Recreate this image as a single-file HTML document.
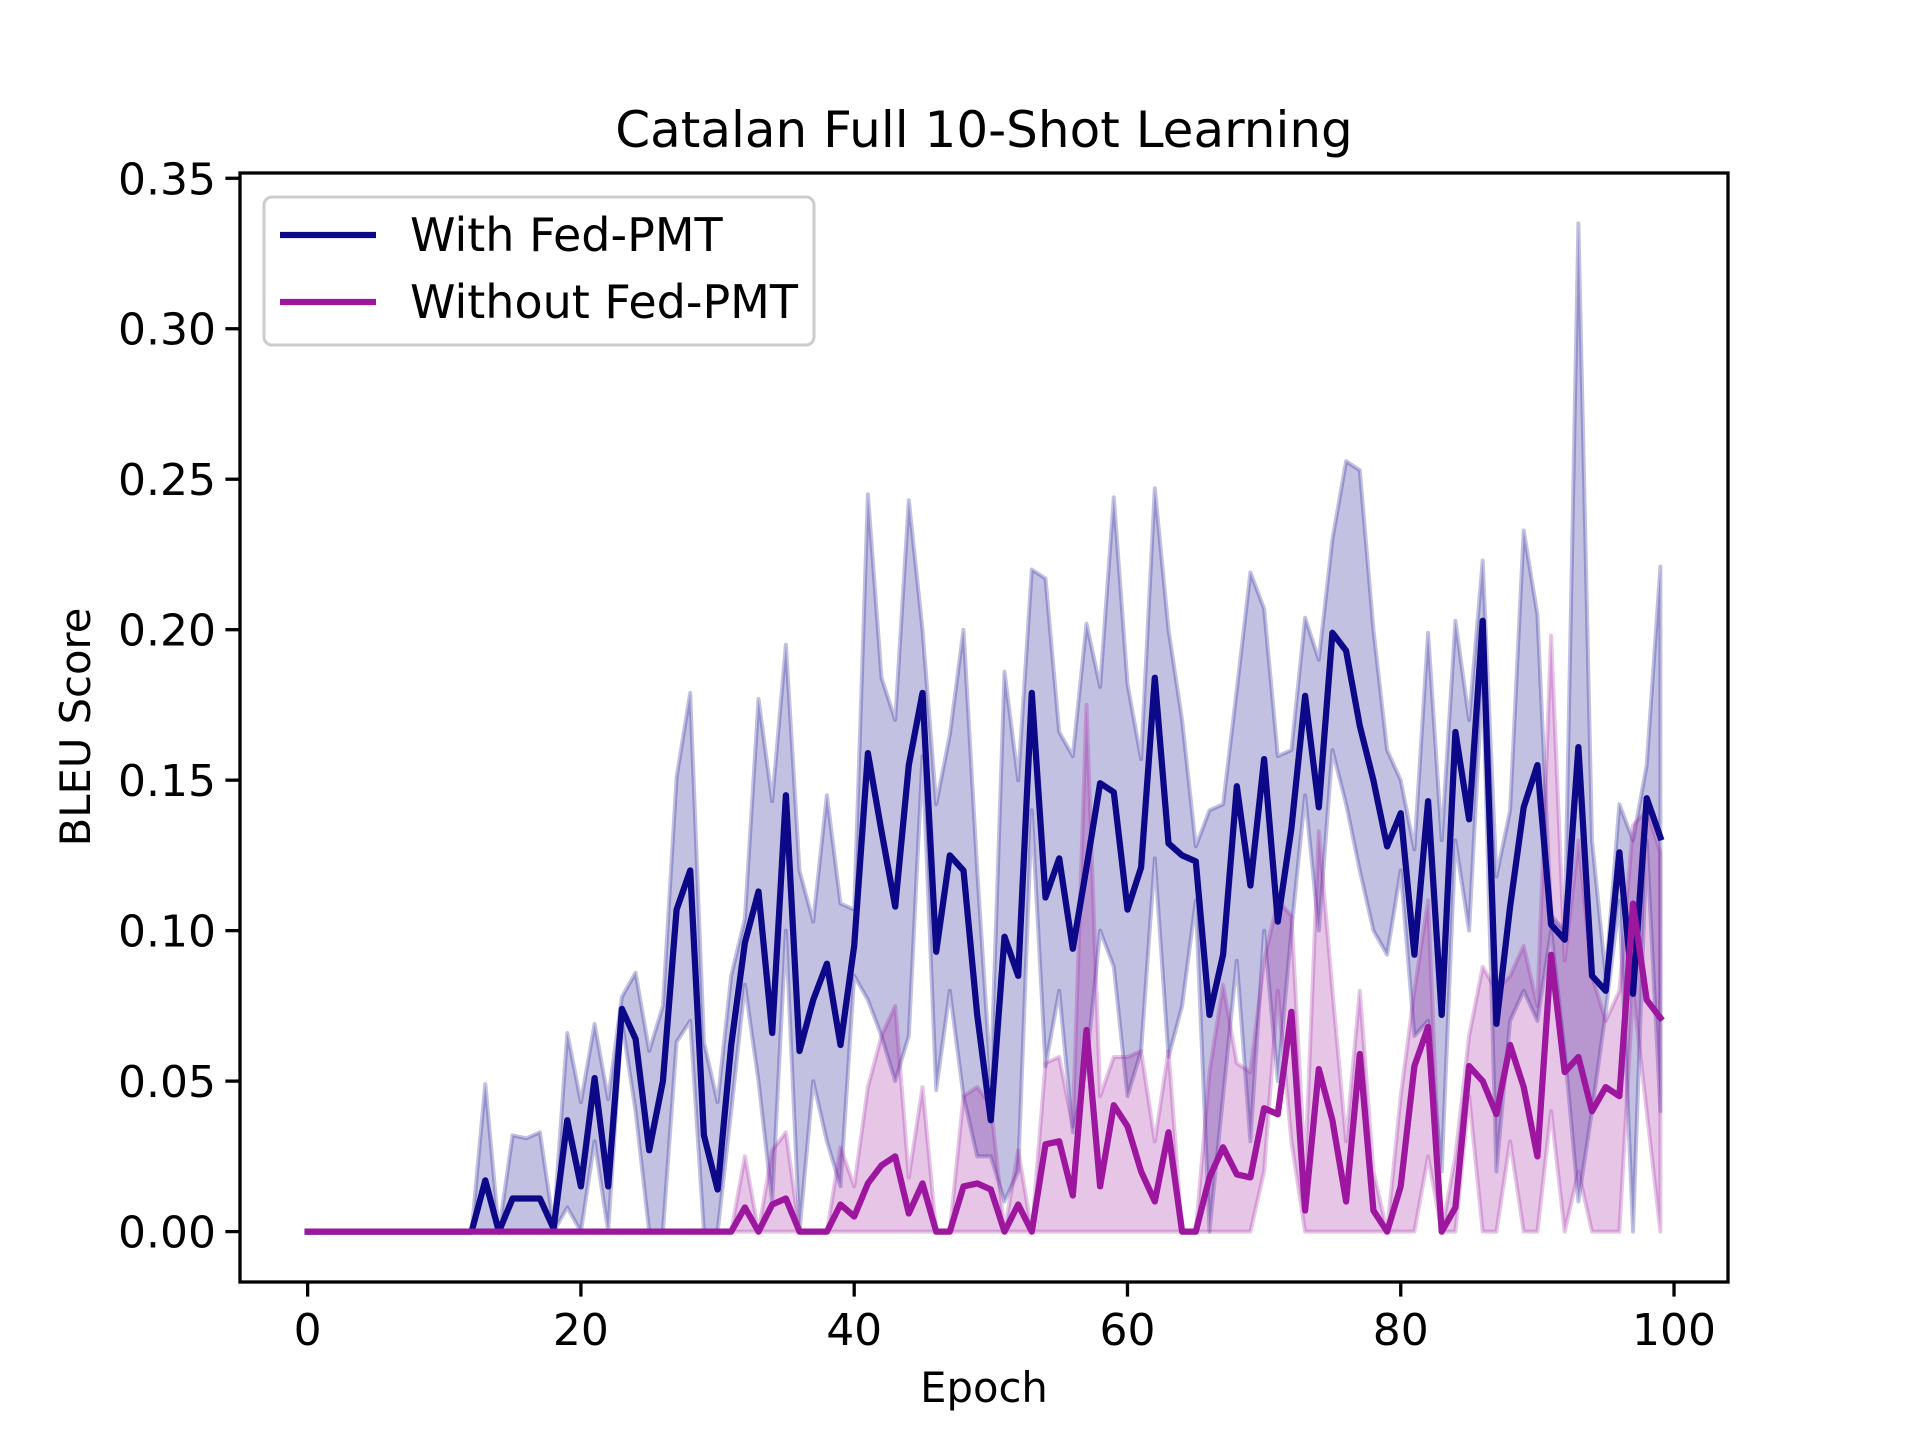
<!DOCTYPE html>
<html><head><meta charset="utf-8"><style>
html,body{margin:0;padding:0;background:#fff;}
svg text{font-family:"DejaVu Sans","Liberation Sans",sans-serif;fill:#000;}
</style></head><body>
<svg id="chart" width="1920" height="1440" viewBox="0 0 1920 1440" xmlns="http://www.w3.org/2000/svg">
<rect width="1920" height="1440" fill="#fff"/>
<g id="plot"></g>
<text x="984" y="147" font-size="50" text-anchor="middle">Catalan Full 10-Shot Learning</text>
<text x="984" y="1402" font-size="41.7" text-anchor="middle">Epoch</text>
<text x="0" y="0" font-size="41.7" text-anchor="middle" transform="translate(90,727) rotate(-90)">BLEU Score</text>
<g>
<rect x="264" y="197" width="550" height="148" rx="8" fill="#fff" fill-opacity="0.8" stroke="#ccc" stroke-width="3"/>
<line x1="280" y1="235" x2="376" y2="235" stroke="#0d0887" stroke-width="6.25"/>
<text x="410" y="251" font-size="46">With Fed-PMT</text>
<line x1="280" y1="302" x2="376" y2="302" stroke="#9c179e" stroke-width="6.25"/>
<text x="410" y="318" font-size="46">Without Fed-PMT</text>
</g>
</svg>
<script>
const withMean=[0,0,0,0,0,0,0,0,0,0,0,0,0,0.017,0,0.011,0.011,0.011,0.001,0.037,0.015,0.051,0.015,0.074,0.064,0.027,0.05,0.107,0.12,0.032,0.014,0.062,0.096,0.113,0.066,0.145,0.06,0.077,0.089,0.062,0.095,0.159,0.133,0.108,0.155,0.179,0.093,0.125,0.12,0.072,0.037,0.098,0.085,0.179,0.111,0.124,0.094,0.121,0.149,0.146,0.107,0.121,0.184,0.129,0.125,0.123,0.072,0.092,0.148,0.115,0.157,0.103,0.134,0.178,0.141,0.199,0.193,0.168,0.15,0.128,0.139,0.092,0.143,0.072,0.166,0.137,0.203,0.069,0.108,0.141,0.155,0.102,0.097,0.161,0.085,0.08,0.126,0.079,0.144,0.131];
const withUpper=[0,0,0,0,0,0,0,0,0,0,0,0,0,0.049,0,0.032,0.031,0.033,0.002,0.066,0.043,0.069,0.044,0.078,0.086,0.06,0.075,0.151,0.179,0.063,0.043,0.085,0.104,0.177,0.143,0.195,0.12,0.103,0.145,0.109,0.107,0.245,0.184,0.17,0.243,0.2,0.142,0.165,0.2,0.12,0.05,0.186,0.15,0.22,0.217,0.166,0.158,0.202,0.181,0.244,0.182,0.157,0.247,0.2,0.17,0.128,0.14,0.142,0.18,0.219,0.207,0.158,0.16,0.204,0.19,0.23,0.256,0.253,0.2,0.16,0.15,0.127,0.199,0.13,0.203,0.17,0.223,0.118,0.14,0.233,0.205,0.105,0.1,0.335,0.13,0.085,0.142,0.13,0.155,0.221];
const withLower=[0,0,0,0,0,0,0,0,0,0,0,0,0,0,0,0,0,0,0,0.008,0,0.03,0,0.07,0.04,0,0,0.063,0.07,0,0,0.04,0.082,0.05,0.01,0.1,0,0.05,0.03,0.015,0.085,0.077,0.065,0.05,0.065,0.158,0.047,0.08,0.045,0.025,0.025,0.01,0.02,0.14,0.055,0.08,0.033,0.055,0.1,0.088,0.045,0.06,0.124,0.058,0.075,0.11,0,0.045,0.09,0.03,0.1,0.05,0.1,0.145,0.1,0.16,0.142,0.12,0.1,0.092,0.12,0.065,0.07,0.02,0.13,0.1,0.185,0.02,0.07,0.08,0.07,0.1,0.06,0.01,0.04,0.073,0.11,0,0.13,0.04];
const withoutMean=[0,0,0,0,0,0,0,0,0,0,0,0,0,0,0,0,0,0,0,0,0,0,0,0,0,0,0,0,0,0,0,0,0.008,0,0.009,0.011,0,0,0,0.009,0.005,0.016,0.022,0.025,0.006,0.016,0,0,0.015,0.016,0.014,0,0.009,0,0.029,0.03,0.012,0.067,0.015,0.042,0.035,0.02,0.01,0.033,0,0,0.018,0.028,0.019,0.018,0.041,0.039,0.073,0.007,0.054,0.037,0.01,0.059,0.007,0,0.015,0.055,0.068,0,0.008,0.055,0.05,0.039,0.062,0.048,0.025,0.092,0.053,0.058,0.04,0.048,0.045,0.109,0.077,0.071];
const withoutUpper=[0,0,0,0,0,0,0,0,0,0,0,0,0,0,0,0,0,0,0,0,0,0,0,0,0,0,0,0,0,0,0,0,0.025,0,0.027,0.033,0,0,0,0.028,0.015,0.048,0.065,0.075,0.018,0.048,0,0,0.045,0.048,0.042,0,0.027,0,0.056,0.058,0.035,0.175,0.045,0.058,0.058,0.06,0.03,0.06,0,0,0.053,0.082,0.056,0.053,0.09,0.11,0.105,0.02,0.133,0.08,0.03,0.08,0.02,0,0.045,0.08,0.11,0,0.025,0.065,0.088,0.08,0.085,0.095,0.075,0.198,0.09,0.13,0.085,0.07,0.08,0.135,0.14,0.126];
const withoutLower=[0,0,0,0,0,0,0,0,0,0,0,0,0,0,0,0,0,0,0,0,0,0,0,0,0,0,0,0,0,0,0,0,0,0,0,0,0,0,0,0,0,0,0,0,0,0,0,0,0,0,0,0,0,0,0,0,0,0,0,0,0,0,0,0,0,0,0,0,0,0,0.02,0.08,0.03,0,0,0,0,0,0,0,0,0,0.025,0,0,0.045,0,0,0.03,0,0,0.04,0,0.02,0,0,0,0.08,0.04,0];
const xTicks=[0,20,40,60,80,100];
const yTicks=[0,0.05,0.1,0.15,0.2,0.25,0.3,0.35];
const yTickLabels=["0.00","0.05","0.10","0.15","0.20","0.25","0.30","0.35"];

const L=240,R=1728,T=173,B=1282;
const xmin=-4.95,xmax=103.95,ymin=-0.01675,ymax=0.35175;
const sx=v=>L+(v-xmin)/(xmax-xmin)*(R-L);
const sy=v=>B-(v-ymin)/(ymax-ymin)*(B-T);
const NS="http://www.w3.org/2000/svg";
const g=document.getElementById('plot');
function mk(t,a){const e=document.createElementNS(NS,t);for(const k in a)e.setAttribute(k,a[k]);return e;}
function band(lo,hi,col,name){
  let d='M'+hi.map((v,i)=>sx(i).toFixed(1)+','+sy(v).toFixed(1)).join('L');
  for(let i=lo.length-1;i>=0;i--)d+='L'+sx(i).toFixed(1)+','+sy(lo[i]).toFixed(1);
  d+='Z';
  const p=mk('path',{d:d,fill:col,'fill-opacity':0.25,stroke:col,'stroke-opacity':0.25,'stroke-width':4,'stroke-linejoin':'round'});
  
  
  g.appendChild(p);
}
function line(arr,col,name){
  const d='M'+arr.map((v,i)=>sx(i).toFixed(1)+','+sy(v).toFixed(1)).join('L');
  const p=mk('path',{d:d,fill:'none',stroke:col,'stroke-width':6.25,'stroke-linejoin':'round','stroke-linecap':'square'});
  
  
  g.appendChild(p);
}
band(withLower,withUpper,'#0d0887','with-fed-pmt-band');
band(withoutLower,withoutUpper,'#9c179e','without-fed-pmt-band');
line(withMean,'#0d0887','with-fed-pmt-line');
line(withoutMean,'#9c179e','without-fed-pmt-line');
const fr=mk('rect',{x:L,y:T,width:R-L,height:B-T,fill:'none',stroke:'#000','stroke-width':3.3});


g.appendChild(fr);
xTicks.forEach(v=>{
  const x=sx(v);
  const t=mk('line',{x1:x,y1:B,x2:x,y2:B+14.6,stroke:'#000','stroke-width':3.3});
  
  
  g.appendChild(t);
  const tx=mk('text',{x:x,y:B+63,'font-size':44,'text-anchor':'middle'});
  tx.textContent=String(v);
  
  
  g.appendChild(tx);
});
yTicks.forEach((v,i)=>{
  const y=sy(v);
  const t=mk('line',{x1:L-14.6,y1:y,x2:L,y2:y,stroke:'#000','stroke-width':3.3});
  
  
  g.appendChild(t);
  const tx=mk('text',{x:L-24,y:y+16,'font-size':44,'text-anchor':'end'});
  tx.textContent=yTickLabels[i];
  
  
  g.appendChild(tx);
});
</script>
</body></html>
